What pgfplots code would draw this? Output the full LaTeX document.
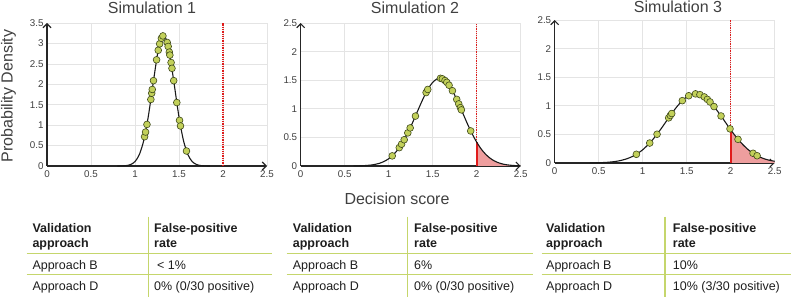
\documentclass[border=0pt]{standalone}
\usepackage{pgfplots}
\pgfplotsset{compat=1.18}
\usepackage{fontspec}
\setmainfont{Liberation Sans}
\usetikzlibrary{arrows.meta}
\definecolor{mk}{HTML}{C2D05A}
\definecolor{mkedge}{HTML}{3F4A1A}
\definecolor{shade}{HTML}{EE9E9E}
\definecolor{redl}{HTML}{E01B1B}
\definecolor{tline}{HTML}{C5D66C}
\definecolor{gridc}{HTML}{E4E4E4}
\definecolor{txt}{HTML}{404040}
\definecolor{ttxt}{HTML}{1E1E1E}
\pgfplotsset{
  sim/.style={
    scale only axis, width=220pt, height=143pt,
    xmin=0, xmax=2.5, ymin=0,
    axis lines=left,
    axis line style={line width=1.1pt, black!85, -{Straight Barb[length=4pt,width=8pt,line width=1.1pt]}},
    xtick={0,0.5,1,1.5,2,2.5}, xticklabels={0,0.5,1,1.5,2,2.5},
    grid=major, major grid style={gridc, line width=0.6pt},
    major tick length=0pt,
    tick label style={font=\fontsize{9.8}{10}\selectfont, text=txt},
    xticklabel style={yshift=-1pt},
    clip=false,
    /pgf/number format/assume math mode=true,
  },
  curve/.style={black!90, line width=1.1pt, smooth},
  mks/.style={only marks, mark=*, mark size=3.4pt, mark options={fill=mk, draw=mkedge, line width=0.6pt}},
}
\newcommand{\tf}{\fontsize{12.5}{14}\selectfont}
\begin{document}
\begin{tikzpicture}[x=1pt,y=1pt]
\path[use as bounding box] (0,0) rectangle (791,297);
\coordinate (o1) at (47,131);
\coordinate (o2) at (300.7,131);
\coordinate (o3) at (554.7,134);

% ---------- Simulation 1 ----------
\begin{axis}[sim, at={(o1)}, anchor=south west, ymax=3.5,
  ytick={0,0.5,1,1.5,2,2.5,3,3.5}, yticklabels={0,0.5,1,1.5,2,2.5,3,3.5}]
\addplot[redl, densely dotted, line width=1.3pt] coordinates {(2,0) (2,3.5)};
\addplot[curve] coordinates {
(0.8,0.0005) (0.85,0.0023) (0.9,0.0099) (0.95,0.0354) (1.0,0.1086) (1.05,0.2836)
(1.1,0.631) (1.15,1.197) (1.2,1.935) (1.25,2.665) (1.275,2.945) (1.3,3.126) (1.325,3.19)
(1.35,3.126) (1.375,2.945) (1.4,2.665) (1.45,1.935) (1.5,1.197) (1.55,0.631) (1.6,0.2836)
(1.65,0.1086) (1.7,0.0354) (1.75,0.0099) (1.8,0.0023) (1.85,0.0005)};
\addplot[mks] coordinates {
(1.109,0.717) (1.12,0.831) (1.136,1.017) (1.18,1.628) (1.19,1.781) (1.196,1.873)
(1.21,2.089) (1.245,2.599) (1.264,2.832) (1.28,2.990) (1.30,3.126) (1.317,3.184)
(1.366,3.023) (1.377,2.926) (1.39,2.787) (1.396,2.715) (1.41,2.532) (1.42,2.390)
(1.44,2.089) (1.475,1.553) (1.506,1.118) (1.517,0.980) (1.585,0.367)};
\end{axis}

% ---------- Simulation 2 ----------
\begin{axis}[sim, at={(o2)}, anchor=south west, ymax=2.5,
  ytick={0,0.5,1,1.5,2,2.5}, yticklabels={0,0.5,1,1.5,2,2.5}]
\addplot[fill=shade, draw=none, smooth] coordinates {
(2,0.416) (2.05,0.299) (2.1,0.208) (2.15,0.139) (2.2,0.089) (2.25,0.0555) (2.3,0.033)
(2.35,0.019) (2.4,0.011) (2.45,0.0057) (2.5,0.003)} \closedcycle;
\addplot[redl, densely dotted, line width=1.3pt] coordinates {(2,0.416) (2,2.5)};
\addplot[redl, line width=2pt] coordinates {(2,0) (2,0.416)};
\addplot[curve] coordinates {
(0.6,0.0013) (0.65,0.0026) (0.7,0.005) (0.75,0.0094) (0.8,0.017) (0.85,0.030) (0.9,0.050)
(0.95,0.0815) (1.0,0.127) (1.05,0.192) (1.1,0.279) (1.15,0.391) (1.2,0.527) (1.25,0.686)
(1.3,0.859) (1.35,1.037) (1.4,1.207) (1.45,1.354) (1.5,1.463) (1.55,1.524) (1.58,1.534)
(1.6,1.529) (1.65,1.479) (1.7,1.379) (1.75,1.239) (1.8,1.072) (1.85,0.895) (1.9,0.719)
(1.95,0.557) (2.0,0.416) (2.05,0.299) (2.1,0.208) (2.15,0.139) (2.2,0.089) (2.25,0.0555)
(2.3,0.033) (2.35,0.019) (2.4,0.011) (2.45,0.0057) (2.5,0.003)};
\addplot[mks] coordinates {
(1.04,0.177) (1.12,0.321) (1.146,0.381) (1.176,0.459) (1.217,0.579) (1.244,0.666)
(1.304,0.873) (1.425,1.284) (1.444,1.338) (1.588,1.533) (1.61,1.524) (1.64,1.494)
(1.66,1.463) (1.686,1.412) (1.724,1.316) (1.773,1.165) (1.796,1.086) (1.815,1.020)
(1.826,0.981) (1.932,0.613)};
\end{axis}

% ---------- Simulation 3 ----------
\begin{axis}[sim, at={(o3)}, anchor=south west, ymax=2.5,
  ytick={0,0.5,1,1.5,2,2.5}, yticklabels={0,0.5,1,1.5,2,2.5}]
\addplot[fill=shade, draw=none, smooth] coordinates {
(2,0.580) (2.1,0.384) (2.2,0.2315) (2.3,0.127) (2.4,0.064) (2.5,0.0293)} \closedcycle;
\addplot[redl, densely dotted, line width=1.3pt] coordinates {(2,0.58) (2,2.5)};
\addplot[redl, line width=2pt] coordinates {(2,0) (2,0.58)};
\addplot[curve] coordinates {
(0.4,0.0016) (0.5,0.0047) (0.6,0.0123) (0.7,0.0293) (0.8,0.064) (0.9,0.127) (1.0,0.2315)
(1.1,0.384) (1.2,0.580) (1.3,0.800) (1.4,1.006) (1.5,1.155) (1.6,1.209) (1.7,1.155)
(1.8,1.006) (1.9,0.800) (2.0,0.580) (2.1,0.384) (2.2,0.2315) (2.3,0.127) (2.4,0.064)
(2.5,0.0293)};
\addplot[mks] coordinates {
(0.928,0.152) (1.08,0.349) (1.163,0.503) (1.295,0.789) (1.314,0.830) (1.33,0.865)
(1.45,1.090) (1.523,1.176) (1.60,1.209) (1.65,1.195) (1.70,1.155) (1.735,1.112)
(1.765,1.067) (1.81,0.987) (1.89,0.822) (1.992,0.597) (2.083,0.414) (2.254,0.170)
(2.30,0.127)};
\end{axis}

% ---------- titles and labels ----------
\begin{scope}[every node/.style={text=txt, font=\fontsize{16}{18}\selectfont, inner sep=0pt}]
\node at (152,289) {Simulation 1};
\node at (415,289) {Simulation 2};
\node at (678,290) {Simulation 3};
\node[rotate=90] at (8.5,201) {Probability Density};
\node at (397,98) {Decision score};
\end{scope}

% ---------- tables ----------
\begin{scope}[tline, line width=1.2pt]
\draw (26.7,43.5) -- (271.7,43.5); \draw (26.7,22.5) -- (271.7,22.5); \draw (148.3,80.3) -- (148.3,0);
\draw (286.7,43.5) -- (533,43.5); \draw (286.7,22.5) -- (533,22.5); \draw (407.3,80.3) -- (407.3,0);
\draw (541.7,43.5) -- (791,43.5); \draw (541.7,22.5) -- (791,22.5); \draw (665,80.3) -- (665,0);
\end{scope}
\begin{scope}[every node/.style={text=ttxt, inner sep=0pt, anchor=base west}]
% table 1
\node[font=\tf\bfseries] at (32.3,64.7) {Validation};
\node[font=\tf\bfseries] at (32.3,49.3) {approach};
\node[font=\tf\bfseries] at (154,64.7) {False-positive};
\node[font=\tf\bfseries] at (154,49.3) {rate};
\node[font=\tf] at (32.3,28) {Approach B};
\node[font=\tf] at (157,28) {< 1\%};
\node[font=\tf] at (32.3,7) {Approach D};
\node[font=\tf] at (154,7) {0\% (0/30 positive)};
% table 2
\node[font=\tf\bfseries] at (292.7,64.7) {Validation};
\node[font=\tf\bfseries] at (292.7,49.3) {approach};
\node[font=\tf\bfseries] at (414,64.7) {False-positive};
\node[font=\tf\bfseries] at (414,49.3) {rate};
\node[font=\tf] at (292.7,28) {Approach B};
\node[font=\tf] at (414,28) {6\%};
\node[font=\tf] at (292.7,7) {Approach D};
\node[font=\tf] at (414,7) {0\% (0/30 positive)};
% table 3
\node[font=\tf\bfseries] at (546,64.7) {Validation};
\node[font=\tf\bfseries] at (546,49.3) {approach};
\node[font=\tf\bfseries] at (672.7,64.7) {False-positive};
\node[font=\tf\bfseries] at (672.7,49.3) {rate};
\node[font=\tf] at (546,28) {Approach B};
\node[font=\tf] at (672.7,28) {10\%};
\node[font=\tf] at (546,7) {Approach D};
\node[font=\tf] at (672.7,7) {10\% (3/30 positive)};
\end{scope}
\end{tikzpicture}
\end{document}
